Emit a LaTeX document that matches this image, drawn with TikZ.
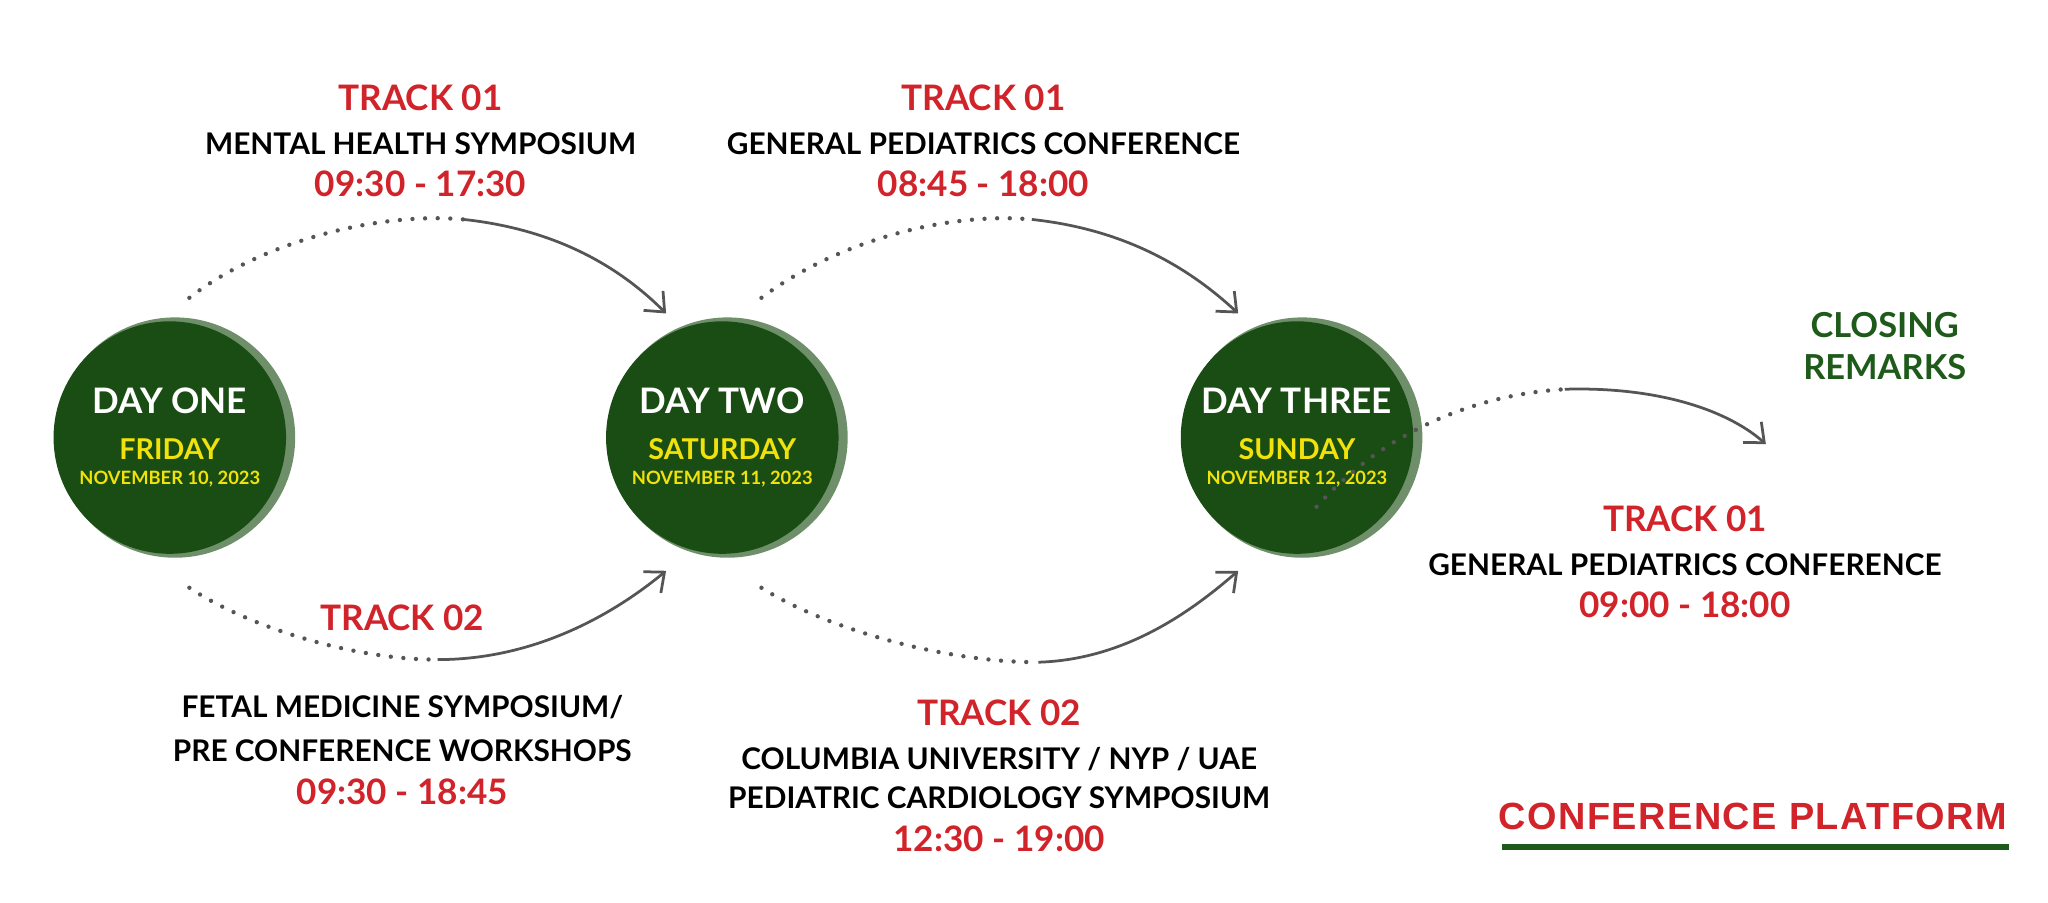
\documentclass[tikz,border=0pt]{standalone}
\usepackage{fontspec}
\setmainfont{Lato}
\newfontfamily\arialf{Liberation Sans}
\usetikzlibrary{arrows.meta}
\definecolor{dg}{HTML}{1A4D14}
\definecolor{ring}{HTML}{6E8F69}
\definecolor{rd}{HTML}{D0232A}
\definecolor{yl}{HTML}{F2E20B}
\definecolor{gr}{HTML}{555555}
\definecolor{tg}{HTML}{1E5A1A}
\tikzset{
 trk/.style={text=rd,font=\fontsize{15.3}{17}\selectfont\bfseries},
 ttl/.style={text=black,font=\fontsize{13}{15}\selectfont\bfseries},
 dayn/.style={text=white,font=\fontsize{15.3}{17}\selectfont\bfseries},
 dayd/.style={text=yl,font=\fontsize{12.5}{14}\selectfont\bfseries},
 dated/.style={text=yl,font=\fontsize{8}{9}\selectfont\bfseries},
 dots/.style={gr,line width=1.9pt,line cap=round,dash pattern=on 0pt off 5.5pt},
 arr/.style={gr,line width=1.2pt,-{Straight Barb[length=7pt,width=12pt,line width=1.2pt]}},
}
\newcommand{\dayc}[5]{%
 \fill[ring] (#1+4,#2) circle[radius=92];
 \fill[dg] (#1,#2) circle[radius=89];
 \node[dayn] (#3) at (#1,307) {#4};
 #5}
\begin{document}
\begin{tikzpicture}[x={(0.02cm,0)},y={(0,-0.02cm)}]
\useasboundingbox (0,0) rectangle (1568,691);
\dayc{130}{335}{d1}{DAY ONE}{\node[dayd] at (130,344){FRIDAY};\node[dated] at (130,367){NOVEMBER 10, 2023};}
\dayc{553}{335}{d2}{DAY TWO}{\node[dayd] at (553,344){SATURDAY};\node[dated] at (553,367){NOVEMBER 11, 2023};}
\dayc{993}{335}{d3}{DAY THREE}{\node[dayd] at (993,344){SUNDAY};\node[dated] at (993,367){NOVEMBER 12, 2023};}
% arrows
\coordinate (a1) at (145,228); \coordinate (m1) at (355,168); \coordinate (e1) at (510,240);
\draw[dots] (a1) .. controls (200,185) and (290,162) .. (m1);
\draw[arr] (m1) .. controls (420,175) and (470,200) .. (e1);
\coordinate (a2) at (145,450); \coordinate (m2) at (335,505); \coordinate (e2) at (510,437);
\draw[dots] (a2) .. controls (190,480) and (270,505) .. (m2);
\draw[arr] (m2) .. controls (410,505) and (470,470) .. (e2);
\coordinate (a3) at (583,228); \coordinate (m3) at (790,168); \coordinate (e3) at (948,240);
\draw[dots] (a3) .. controls (640,185) and (725,162) .. (m3);
\draw[arr] (m3) .. controls (855,175) and (905,200) .. (e3);
\coordinate (a4) at (583,450); \coordinate (m4) at (795,507); \coordinate (e4) at (948,437);
\draw[dots] (a4) .. controls (630,480) and (720,507) .. (m4);
\draw[arr] (m4) .. controls (860,505) and (910,470) .. (e4);
\coordinate (a5) at (1008,388); \coordinate (m5) at (1198,298); \coordinate (e5) at (1352,340);
\draw[dots] (a5) .. controls (1060,330) and (1130,302) .. (m5);
\draw[arr] (m5) .. controls (1265,296) and (1320,312) .. (e5);
% texts
\node[trk] (t1) at (322,75){TRACK 01};
\node[ttl] (s1) at (322,110){MENTAL HEALTH SYMPOSIUM};
\node[trk] (h1) at (322,141){09:30 - 17:30};
\node[trk] (t2) at (753,75){TRACK 01};
\node[ttl] (s2) at (753,110){GENERAL PEDIATRICS CONFERENCE};
\node[trk] (h2) at (753,141){08:45 - 18:00};
\node[text=tg,font=\fontsize{15}{17}\selectfont\bfseries,align=center] (cr) at (1443,265){CLOSING\\[1pt]REMARKS};
\node[trk] (t3) at (1290,397){TRACK 01};
\node[ttl] (s3) at (1290,432){GENERAL PEDIATRICS CONFERENCE};
\node[trk] (h3) at (1290,463){09:00 - 18:00};
\node[trk] (t4) at (308,473){TRACK 02};
\node[ttl] (s4) at (308,541){FETAL MEDICINE SYMPOSIUM/};
\node[ttl] (s4b) at (308,575){PRE CONFERENCE WORKSHOPS};
\node[trk] (h4) at (308,606){09:30 - 18:45};
\node[trk] (t5) at (765,546){TRACK 02};
\node[ttl] (s5) at (765,581){COLUMBIA UNIVERSITY / NYP / UAE};
\node[ttl] (s5b) at (765,611){PEDIATRIC CARDIOLOGY SYMPOSIUM};
\node[trk] (h5) at (765,642){12:30 - 19:00};
\node[text=rd,font=\arialf\fontsize{16.5}{18}\selectfont\bfseries\addfontfeature{LetterSpace=4}] (cp) at (1342,625){CONFERENCE PLATFORM};
\fill[tg] (1150,646) rectangle (1538,651);
\end{tikzpicture}
\end{document}
